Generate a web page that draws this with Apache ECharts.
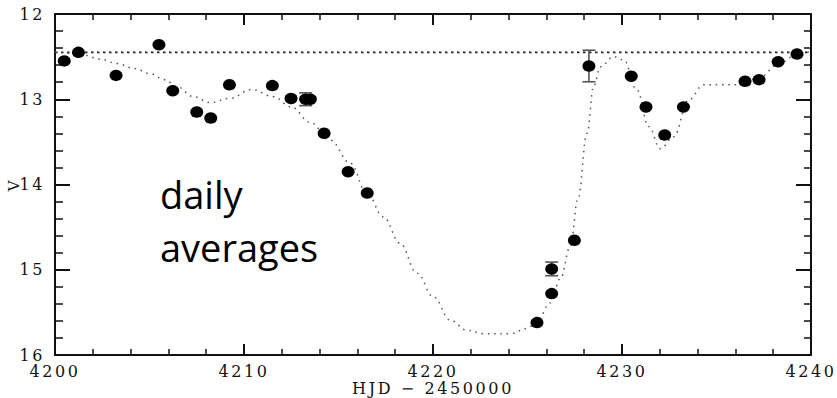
<!DOCTYPE html>
<html>
<head>
<meta charset="utf-8">
<script src="https://cdn.jsdelivr.net/npm/echarts@6/dist/echarts.min.js"></script>
<style>
  html, body { margin: 0; padding: 0; background: #fff; }
  #chart { width: 837px; height: 398px; }
  /* wide, stroke-like lettering for the axis text */
  #chart text[style*="DejaVu Serif"] { letter-spacing: 2.6px; }
</style>
</head>
<body>
<div id="chart"></div>
<script>
// Daily-averaged V magnitudes (HJD - 2450000)
const hjd = [4200.49, 4201.24, 4203.23, 4205.50, 4206.23, 4207.50, 4208.24, 4209.23,
             4211.50, 4212.49, 4213.26, 4213.51, 4214.24, 4215.51, 4216.52, 4225.50,
             4226.28, 4226.28, 4227.48, 4228.25, 4230.49, 4231.27, 4232.26, 4233.25,
             4236.51, 4237.25, 4238.26, 4239.26];
const vMag = [12.55, 12.45, 12.72, 12.36, 12.90, 13.15, 13.22, 12.83,
              12.84, 12.99, 13.00, 13.00, 13.40, 13.85, 14.10, 15.62,
              15.28, 14.99, 14.655, 12.61, 12.73, 13.09, 13.42, 13.09,
              12.79, 12.77, 12.56, 12.47];

// Points carrying error bars
const errHjd = [4213.26, 4226.28, 4228.25];
const errMag = [13.00, 14.99, 12.61];
const errSigma = [0.075, 0.08, 0.185];

// Model light curve
const fitHjd = [4200.0, 4201.0, 4201.5, 4202.4, 4203.27, 4204.2, 4205.03, 4205.8,
                4206.44, 4207.32, 4208.2, 4209.26, 4210.4, 4211.56, 4212.5, 4213.5,
                4214.56, 4215.62, 4216.5, 4217.38, 4218.26, 4219.15, 4220.03, 4220.91,
                4221.79, 4222.67, 4224.09, 4224.97, 4225.5, 4226.2, 4226.75, 4227.26,
                4227.67, 4228.15, 4228.5, 4228.85, 4229.56, 4230.09, 4230.79, 4231.41,
                4232.03, 4232.73, 4233.52, 4234.32, 4235.3, 4236.26, 4237.32, 4238.2,
                4239.09, 4240.0];
const fitMag = [12.45, 12.46, 12.48, 12.53, 12.58, 12.64, 12.70, 12.77,
                12.85, 12.97, 13.04, 12.99, 12.885, 12.97, 13.09, 13.27,
                13.48, 13.75, 14.10, 14.38, 14.69, 15.04, 15.32, 15.59,
                15.71, 15.75, 15.75, 15.69, 15.61, 15.39, 15.10, 14.73,
                14.17, 13.40, 12.85, 12.62, 12.50, 12.54, 12.89, 13.32,
                13.58, 13.44, 13.01, 12.83, 12.83, 12.83, 12.74, 12.60,
                12.50, 12.43];

// Reference (quiescent) level
const refMag = 12.45;

const xMin = 4200, xMax = 4240, xStep = 10;
const yMin = 12, yMax = 16, yStep = 1;
const xTitle = 'HJD \u2212 2450000';
const yTitle = 'V';
const noteLines = ['daily', 'averages'];

const ink = '#111';
const axisFont = 'DejaVu Serif';

function frameAxis(extra) {
  return Object.assign({
    type: 'value',
    axisLine: { show: true, onZero: false, lineStyle: { color: ink, width: 2 } },
    splitLine: { show: false },
    minorSplitLine: { show: false }
  }, extra);
}

const plainNumber = v => String(v);

const chart = echarts.init(document.getElementById('chart'), null, { renderer: 'svg' });

chart.setOption({
  animation: false,
  backgroundColor: '#fff',
  grid: { left: 55, right: 26, top: 14, bottom: 43, containLabel: false, outerBoundsMode: 'none' },
  xAxis: [
    frameAxis({
      position: 'bottom', min: xMin, max: xMax, interval: xStep,
      axisTick: { inside: true, length: 11, lineStyle: { color: ink, width: 2 } },
      minorTick: { show: true, splitNumber: 5, length: 6, lineStyle: { color: ink, width: 1.5 } },
      axisLabel: { color: ink, fontFamily: axisFont, fontSize: 16, lineHeight: 14, margin: 9,
                   formatter: plainNumber, showMinLabel: true, showMaxLabel: true },
      name: xTitle, nameLocation: 'middle', nameGap: 26, nameMoveOverlap: false,
      nameTextStyle: { color: ink, fontFamily: axisFont, fontSize: 16, lineHeight: 15 }
    }),
    frameAxis({
      position: 'top', min: xMin, max: xMax, interval: xStep,
      axisTick: { inside: true, length: 11, lineStyle: { color: ink, width: 2 } },
      minorTick: { show: true, splitNumber: 5, length: 6, lineStyle: { color: ink, width: 1.5 } },
      axisLabel: { show: false }
    })
  ],
  yAxis: [
    frameAxis({
      position: 'left', inverse: true, min: yMin, max: yMax, interval: yStep,
      axisTick: { inside: true, length: 15, lineStyle: { color: ink, width: 2 } },
      minorTick: { show: true, splitNumber: 5, length: 8, lineStyle: { color: ink, width: 1.5 } },
      axisLabel: { color: ink, fontFamily: axisFont, fontSize: 16, lineHeight: 12, margin: 10,
                   formatter: plainNumber, showMinLabel: true, showMaxLabel: true },
      name: yTitle, nameLocation: 'middle', nameGap: 34, nameRotate: 90, nameMoveOverlap: false,
      nameTextStyle: { color: ink, fontFamily: axisFont, fontSize: 15 }
    }),
    frameAxis({
      position: 'right', inverse: true, min: yMin, max: yMax, interval: yStep,
      axisTick: { inside: true, length: 15, lineStyle: { color: ink, width: 2 } },
      minorTick: { show: true, splitNumber: 5, length: 7, lineStyle: { color: ink, width: 1.5 } },
      axisLabel: { show: false }
    })
  ],
  graphic: noteLines.map((line, i) => ({
    type: 'text',
    left: 160,
    top: 175 + i * 53,
    silent: true,
    style: { text: line, fontFamily: 'Open Sans', fontSize: 38, fill: '#000' }
  })),
  series: [
    {
      type: 'line',
      name: 'level',
      data: [[xMin, refMag], [xMax, refMag]],
      showSymbol: false,
      silent: true,
      lineStyle: { color: '#222', width: 1.6, type: [2.5, 3.5] },
      z: 1
    },
    {
      type: 'line',
      name: 'model',
      data: fitHjd.map((x, i) => [x, fitMag[i]]),
      showSymbol: false,
      smooth: 0.4,
      smoothMonotone: 'x',
      silent: true,
      lineStyle: { color: '#555', width: 1.5, type: [1.5, 4.8] },
      z: 2
    },
    {
      type: 'custom',
      name: 'errors',
      data: errHjd.map((x, i) => [x, errMag[i] - errSigma[i], errMag[i] + errSigma[i]]),
      encode: { x: 0, y: [1, 2] },
      silent: true,
      z: 3,
      renderItem(params, api) {
        const x = api.value(0);
        const lo = api.coord([x, api.value(1)]);
        const hi = api.coord([x, api.value(2)]);
        const w = 6.5;
        const st = { stroke: '#555', lineWidth: 1.6 };
        return {
          type: 'group',
          children: [
            { type: 'line', shape: { x1: lo[0], y1: lo[1], x2: hi[0], y2: hi[1] }, style: st },
            { type: 'line', shape: { x1: lo[0] - w, y1: lo[1], x2: lo[0] + w, y2: lo[1] }, style: st },
            { type: 'line', shape: { x1: hi[0] - w, y1: hi[1], x2: hi[0] + w, y2: hi[1] }, style: st }
          ]
        };
      }
    },
    {
      type: 'scatter',
      name: 'daily',
      data: hjd.map((x, i) => [x, vMag[i]]),
      symbol: 'circle',
      symbolSize: [13, 11.5],
      itemStyle: { color: '#000', opacity: 1 },
      silent: true,
      z: 4
    }
  ]
});
</script>
</body>
</html>
